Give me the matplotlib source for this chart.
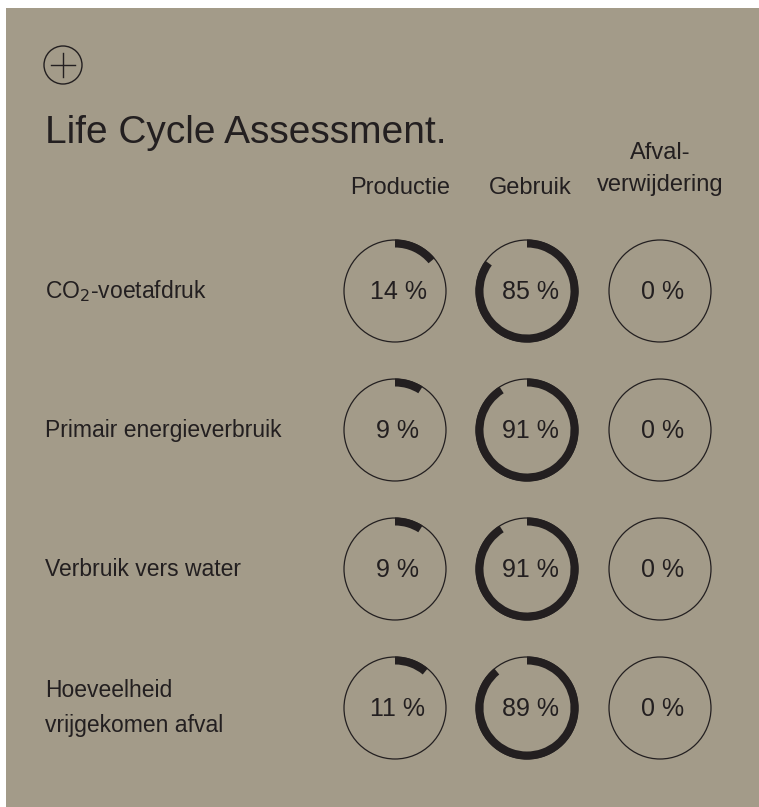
import matplotlib
matplotlib.use("Agg")
import matplotlib.pyplot as plt
from matplotlib.patches import Circle, Wedge, Rectangle

# data
title = "Life Cycle Assessment."
phases = ["Productie", "Gebruik", "Afval-\nverwijdering"]
indicators = ["CO$_2$-voetafdruk", "Primair energieverbruik",
              "Verbruik vers water", "Hoeveelheid\nvrijgekomen afval"]
productie = [14, 9, 9, 11]
gebruik = [85, 91, 91, 89]
afval = [0, 0, 0, 0]

bg = "#a39b89"
ink = "#231f20"
W, H = 759, 807

plt.rcParams['font.family'] = ['Liberation Sans', 'DejaVu Sans']

fig = plt.figure(figsize=(W / 100, H / 100), dpi=100)
fig.patch.set_facecolor("white")
ax = fig.add_axes([0, 0, 1, 1])
ax.set_xlim(0, W)
ax.set_ylim(0, H)
ax.axis("off")

def Y(y):
    # pixel row (from top) -> data y
    return H - y

ax.add_patch(Rectangle((6, 0), W - 6, H - 8, facecolor=bg, edgecolor="none"))

# plus icon
ax.add_patch(Circle((63, Y(65)), 19, fill=False, edgecolor=ink, lw=1.0))
ax.plot([51, 75], [Y(65), Y(65)], color=ink, lw=1.0)
ax.plot([63, 63], [Y(53), Y(77)], color=ink, lw=1.0)

ax.text(45, Y(143), title, fontsize=28, color=ink, ha="left", va="baseline")

col_x = [395, 527, 660]
row_y = [291, 430, 569, 708]
r = 51
ring = 8

ax.text(col_x[0] + 5, Y(194), phases[0], fontsize=17, color=ink, ha="center", va="baseline")
ax.text(col_x[1] + 3, Y(194), phases[1], fontsize=17, color=ink, ha="center", va="baseline")
ax.text(col_x[2], Y(191), phases[2], fontsize=17, color=ink, ha="center", va="baseline",
        linespacing=1.6)

series = [productie, gebruik, afval]
for i, label in enumerate(indicators):
    cy = Y(row_y[i])
    ax.text(45, cy, label, fontsize=16.5, color=ink, ha="left", va="center", linespacing=1.7)
    for j, vals in enumerate(series):
        cx = col_x[j]
        v = vals[i]
        ax.add_patch(Circle((cx, cy), r, fill=False, edgecolor=ink, lw=0.9))
        if v > 0:
            ax.add_patch(Wedge((cx, cy), r + 0.5, 90 - 360 * v / 100, 90, width=ring,
                               facecolor=ink, edgecolor="none"))
        ax.text(cx + 3, cy - 1, f"{v} %", fontsize=18, color=ink, ha="center", va="center")

fig.savefig("out.png", dpi=100, facecolor=fig.get_facecolor())
